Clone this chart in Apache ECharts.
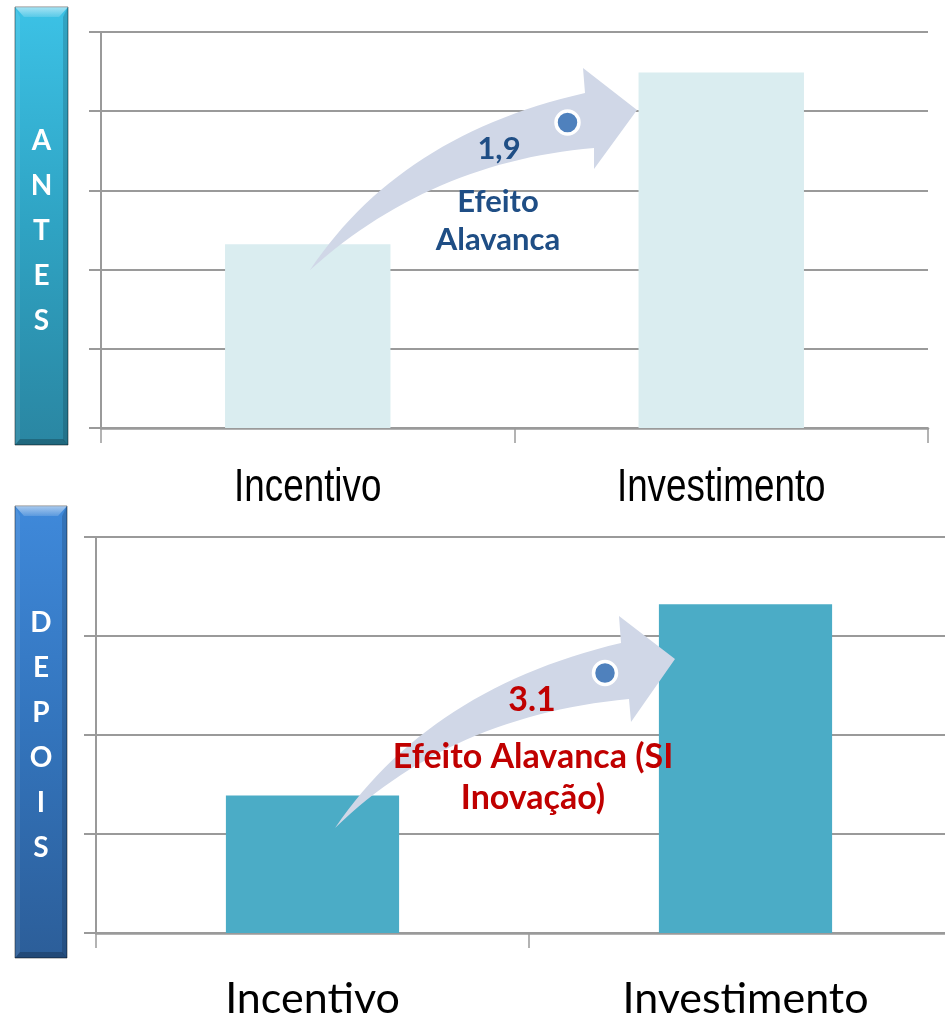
<!DOCTYPE html>
<html>
<head>
<meta charset="utf-8">
<script src="https://cdn.jsdelivr.net/npm/echarts@6/dist/echarts.min.js"></script>
<style>
html,body{margin:0;padding:0;background:#fff;}
#chart{width:945px;height:1017px;}
</style>
</head>
<body>
<div id="chart"></div>
<script>
// ---- data ----
var categories = ['Incentivo', 'Investimento'];
var antesValues = [2.32, 4.49];
var depoisValues = [1.39, 3.32];
var antesLeverage = '1,9';
var depoisLeverage = '3.1';
var antesNote = ['Efeito', 'Alavanca'];
var depoisNote = ['Efeito Alavanca (SI', 'Inovação)'];
var panelTitles = ['ANTES', 'DEPOIS'];

var chart = echarts.init(document.getElementById('chart'), null, {renderer: 'canvas'});

var gridCol = '#9a9a9a';
var sansFont = "'Liberation Sans', Arial, sans-serif";
var calib = "Lato, 'Open Sans', sans-serif";

function box(x, y, w, h, c1, c2, c3, title, firstY, step) {
  var els = [];
  els.push({type:'rect', shape:{x:x, y:y, width:w, height:h}, z:10,
    style:{fill:new echarts.graphic.LinearGradient(0,0,0,1,[{offset:0,color:c1},{offset:0.5,color:c2},{offset:1,color:c3}]),
      stroke:'rgba(0,0,0,0.25)', lineWidth:1}});
  els.push({type:'polygon', z:11, shape:{points:[[x,y],[x+w,y],[x+w-9,y+10],[x+9,y+10]]},
    style:{fill:new echarts.graphic.LinearGradient(0,0,0,1,[{offset:0,color:'rgba(255,255,255,0.55)'},{offset:1,color:'rgba(255,255,255,0.15)'}])}});
  els.push({type:'polygon', z:11, shape:{points:[[x+w,y],[x+w,y+h],[x+w-5,y+h-5],[x+w-5,y+10]]},
    style:{fill:'rgba(0,0,0,0.15)'}});
  els.push({type:'polygon', z:11, shape:{points:[[x,y+h],[x+w,y+h],[x+w-5,y+h-6],[x+5,y+h-6]]},
    style:{fill:'rgba(0,0,0,0.22)'}});
  els.push({type:'polygon', z:11, shape:{points:[[x,y],[x+5,y+10],[x+5,y+h-6],[x,y+h]]},
    style:{fill:'rgba(255,255,255,0.08)'}});
  for (var i = 0; i < title.length; i++) {
    els.push({type:'text', z:12, style:{text:title[i], x:x+w/2, y:firstY+i*step,
      align:'center', verticalAlign:'middle', textAlign:'center', textVerticalAlign:'middle',
      fill:'#ffffff', fontSize:28, fontWeight:'bold', fontFamily:calib}});
  }
  return els;
}

// quadratic bezier sampled into points
function quad(p0, c, p1, n) {
  var pts = [];
  for (var i = 0; i <= n; i++) {
    var t = i / n, u = 1 - t;
    pts.push([u*u*p0[0] + 2*u*t*c[0] + t*t*p1[0], u*u*p0[1] + 2*u*t*c[1] + t*t*p1[1]]);
  }
  return pts;
}
function curvedArrow(tail, ctrlTop, baseTop, headTop, tip, headBot, baseBot, ctrlBot) {
  var pts = quad(tail, ctrlTop, baseTop, 30);
  pts.push(headTop, tip, headBot);
  pts = pts.concat(quad(baseBot, ctrlBot, tail, 30).slice(0, 30));
  return pts;
}

var arrowFill = '#D0D7E7';
var graphics = [];
graphics = graphics.concat(box(15, 7, 53, 438, '#3CC2E6', '#2FA3C3', '#2A86A2', panelTitles[0], 141, 45));
graphics = graphics.concat(box(15, 506, 52, 452, '#3F89DA', '#3374BC', '#2C5E99', panelTitles[1], 623, 45));

// arrows (annotations)
graphics.push({type:'polygon', z:20, shape:{points:curvedArrow([310,270],[400,135],[585,93],[583,68],[637,110],[594,169],[594,148],[430,162])},
  style:{fill:arrowFill}});
graphics.push({type:'polygon', z:20, shape:{points:curvedArrow([335,828],[430,688],[621,643],[619,616],[675,659],[631,722],[629,699],[450,716])},
  style:{fill:arrowFill}});
graphics.push({type:'circle', z:21, shape:{cx:567.5, cy:122.5, r:11.5}, style:{fill:'#4F81BD', stroke:'#ffffff', lineWidth:3.5}});
graphics.push({type:'circle', z:21, shape:{cx:605, cy:673, r:11.5}, style:{fill:'#4F81BD', stroke:'#ffffff', lineWidth:3.5}});

function txt(t, x, y, color, size) {
  return {type:'text', z:22, style:{text:t, x:x, y:y, align:'center', verticalAlign:'middle',
    textAlign:'center', textVerticalAlign:'middle', fill:color, fontSize:size, fontWeight:'bold', fontFamily:calib}};
}
var blue = '#1F4E85', red = '#C00000';
graphics.push(txt(antesLeverage, 499, 149, blue, 31));
graphics.push(txt(antesNote[0], 498, 202, blue, 31));
graphics.push(txt(antesNote[1], 498, 240, blue, 31));
graphics.push(txt(depoisLeverage, 532, 700, red, 34));
graphics.push(txt(depoisNote[0], 533, 757, red, 34));
graphics.push(txt(depoisNote[1], 533, 798, red, 34));

function yAx(gi, max) {
  return {gridIndex:gi, type:'value', min:0, max:max, interval:1,
    axisLabel:{show:false},
    axisLine:{show:true, lineStyle:{color:gridCol, width:2}},
    axisTick:{show:true, length:12, lineStyle:{color:gridCol, width:2}},
    splitLine:{show:true, lineStyle:{color:gridCol, width:2}}};
}
function xAx(gi, label) {
  return {gridIndex:gi, type:'category', data:categories,
    axisLine:{show:true, lineStyle:{color:gridCol, width:2.5}},
    axisTick:{show:true, length:15, alignWithLabel:false, lineStyle:{color:gridCol, width:1.5}},
    axisLabel:label};
}

chart.setOption({
  animation:false,
  backgroundColor:'#ffffff',
  grid:[
    {left:101, width:827, top:32, height:396, containLabel:false, outerBoundsMode:'none'},
    {left:96, width:866, top:537, height:396, containLabel:false, outerBoundsMode:'none'}
  ],
  xAxis:[
    xAx(0, {show:false}),
    xAx(1, {color:'#000', fontSize:43, fontFamily:calib, margin:45})
  ],
  yAxis:[yAx(0, 5), yAx(1, 4)],
  series:[
    {type:'bar', xAxisIndex:0, yAxisIndex:0, data:antesValues, barWidth:'40%',
      itemStyle:{color:'#DAEDF0'}},
    {type:'bar', xAxisIndex:1, yAxisIndex:1, data:depoisValues, barWidth:'40%',
      itemStyle:{color:'#4BACC6'}}
  ],
  graphic:graphics
});

// top-panel category labels in a condensed (narrow) rendering, placed via the axis scale
var extra = [];
for (var i = 0; i < categories.length; i++) {
  var px = chart.convertToPixel({xAxisIndex:0}, categories[i]);
  var base = chart.convertToPixel({yAxisIndex:0}, 0);
  extra.push({type:'text', z:5, x:px, y:base + 60, scaleX:0.80, scaleY:1,
    style:{text:categories[i], x:0, y:0, align:'center', verticalAlign:'middle',
      textAlign:'center', textVerticalAlign:'middle', fill:'#000', fontSize:46, fontFamily:sansFont}});
}
chart.setOption({graphic:graphics.concat(extra)});
</script>
</body>
</html>
